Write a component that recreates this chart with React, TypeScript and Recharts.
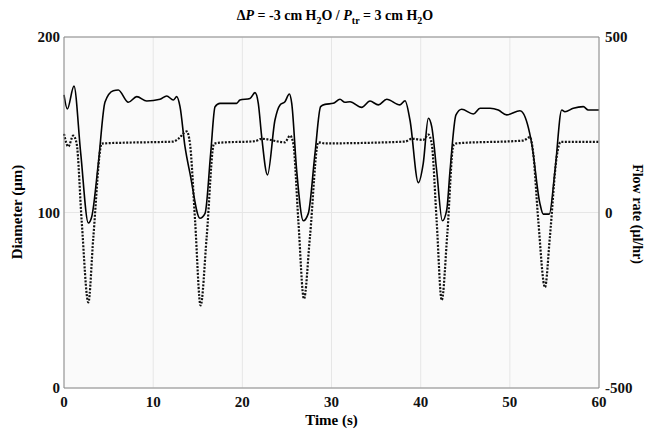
import { ComposedChart, Line, XAxis, YAxis, CartesianGrid, ReferenceLine } from "recharts";

// diameter trace (left axis, µm)
const diamTime = [
  0, 0.37, 1.12, 1.87, 2.73, 3.11, 3.85, 4.6, 5.53, 6.09, 7.21, 8.16, 9.28, 10.77, 11.52, 12.26,
  12.64, 13.01, 13.57, 14.13, 15.25, 15.82, 16.45, 16.94, 17.49, 19.36, 19.73, 20.86, 21.42, 21.79,
  22.17, 22.82, 23.66, 24.23, 24.78, 25.27, 25.54, 26.09, 26.84, 27.4, 28.15, 28.78, 29.27, 30.2,
  30.95, 31.51, 32.08, 33.38, 34.32, 35.25, 36.19, 37.68, 38.25, 38.8, 39.74, 40.29, 40.86, 41.24,
  41.79, 42.43, 42.92, 43.3, 43.96, 44.6, 45.9, 46.66, 47.78, 48.7, 49.65, 51.14, 51.51, 52.45,
  53.37, 53.75, 54.42, 55.07, 55.82, 56.18, 57.12, 58.24, 58.8, 60,
];
const diameter = [
  167, 159, 172, 134, 94, 97.6, 128, 163, 169.4, 169.8, 162.8, 166, 163.5, 164.5, 166.4, 164.1,
  166, 160.3, 137.5, 122.3, 96.7, 99.5, 133.7, 160.3, 162.2, 162.2, 164.1, 165, 168.3, 162.2,
  143.2, 121.4, 152.7, 161.3, 163.1, 167.5, 162.2, 124.2, 95.3, 99.5, 133.7, 160.3, 161.6, 162.2,
  164.5, 162.8, 163.1, 159.9, 163.5, 161.3, 164.5, 161.3, 163.7, 152.7, 117, 128, 153.7, 148.9,
  124.2, 95.3, 101.4, 124.2, 155.6, 158.8, 156.1, 159.4, 159.4, 158.4, 155.6, 158, 156.5, 139.4,
  105.2, 99.1, 99.1, 124.2, 158.4, 157.4, 159.4, 160.3, 158.4, 158.4,
];

// flow rate trace (right axis, µl/hr)
const flowTime = [
  0, 0.48, 1.04, 1.42, 1.98, 2.73, 3.29, 4.23, 4.6, 7.03, 12.26, 12.81, 13.76, 14.13, 14.7, 15.32,
  16.0, 16.82, 17.49, 21.42, 22.17, 24.78, 25.35, 25.72, 26.28, 26.91, 27.58, 28.52, 29.27, 38.25,
  39.0, 40.29, 40.86, 41.24, 41.79, 42.36, 42.99, 43.67, 44.04, 51.51, 52.26, 52.63, 53.19, 53.94,
  54.49, 55.25, 55.7, 60,
];
const flowRate = [
  224, 188, 219, 196, -23, -256, -70, 196, 197, 199, 202, 210, 231, 196, -23, -265,
  -70, 196, 199, 203, 210, 200, 219, 196, -23, -246, -70, 200, 197, 202,
  210, 207, 222, 196, -23, -250, -60, 191, 197, 205, 215, 167, -23, -213,
  -70, 158, 201, 201,
];

const xTicks = [0, 10, 20, 30, 40, 50, 60];
const leftTicks = [0, 100, 200];
const rightTicks = [-500, 0, 500];

const diamData = diamTime.map((t, i) => ({ t, d: diameter[i] }));
const flowData = flowTime.map((t, i) => ({ t, f: flowRate[i] }));

const font = "'Liberation Serif', 'Times New Roman', serif";
const tick = { fill: "#111", fontSize: 15, fontWeight: 700, fontFamily: font };
const frame = "#8a8a8a";

export default function App() {
  return (
    <div style={{ position: "absolute", left: 0, top: 0, width: 645, height: 431, background: "#fff", fontFamily: font }}>
      <ComposedChart width={645} height={431} margin={{ top: 37, right: 0, left: 0, bottom: 0 }}>
        <CartesianGrid yAxisId="left" stroke="#e6e6e6" fill="#fafafa" />
        <XAxis
          dataKey="t"
          type="number"
          domain={[0, 60]}
          ticks={xTicks}
          height={43}
          tick={tick}
          tickLine={false}
          axisLine={{ stroke: frame }}
          allowDuplicatedCategory={false}
        />
        <YAxis
          yAxisId="left"
          domain={[0, 200]}
          ticks={leftTicks}
          width={64}
          tick={tick}
          tickSize={4}
          tickMargin={0}
          tickLine={false}
          axisLine={{ stroke: frame }}
        />
        <YAxis
          yAxisId="right"
          orientation="right"
          domain={[-500, 500]}
          ticks={rightTicks}
          width={46}
          tick={tick}
          tickSize={5}
          tickMargin={1}
          tickLine={false}
          axisLine={{ stroke: frame }}
        />
        <ReferenceLine yAxisId="left" y={200} stroke={frame} />
        <Line
          yAxisId="left"
          data={diamData}
          dataKey="d"
          type="monotone"
          stroke="#000"
          strokeWidth={1.6}
          dot={false}
          isAnimationActive={false}
        />
        <Line
          yAxisId="right"
          data={flowData}
          dataKey="f"
          type="monotone"
          stroke="#111"
          strokeWidth={2.2}
          strokeDasharray="2 1.5"
          dot={false}
          isAnimationActive={false}
        />
      </ComposedChart>
      <div style={{ position: "absolute", left: 0, width: 670, top: 8, textAlign: "center", fontSize: 14, fontWeight: 700 }}>
        Δ<i>P</i> = -3 cm H<sub style={{ fontSize: 10 }}>2</sub>O / <i>P</i>
        <sub style={{ fontSize: 10 }}>tr</sub> = 3 cm H<sub style={{ fontSize: 10 }}>2</sub>O
      </div>
      <div style={{ position: "absolute", left: 0, width: 663, top: 412, textAlign: "center", fontSize: 15, fontWeight: 700 }}>
        Time (s)
      </div>
      <div
        style={{
          position: "absolute", left: 17, top: 212, fontSize: 15, fontWeight: 700, whiteSpace: "nowrap",
          transform: "translate(-50%, -50%) rotate(-90deg)",
        }}
      >
        Diameter (μm)
      </div>
      <div
        style={{
          position: "absolute", left: 637, top: 214, fontSize: 14, fontWeight: 700, whiteSpace: "nowrap",
          transform: "translate(-50%, -50%) rotate(90deg)",
        }}
      >
        Flow rate (μl/hr)
      </div>
    </div>
  );
}
